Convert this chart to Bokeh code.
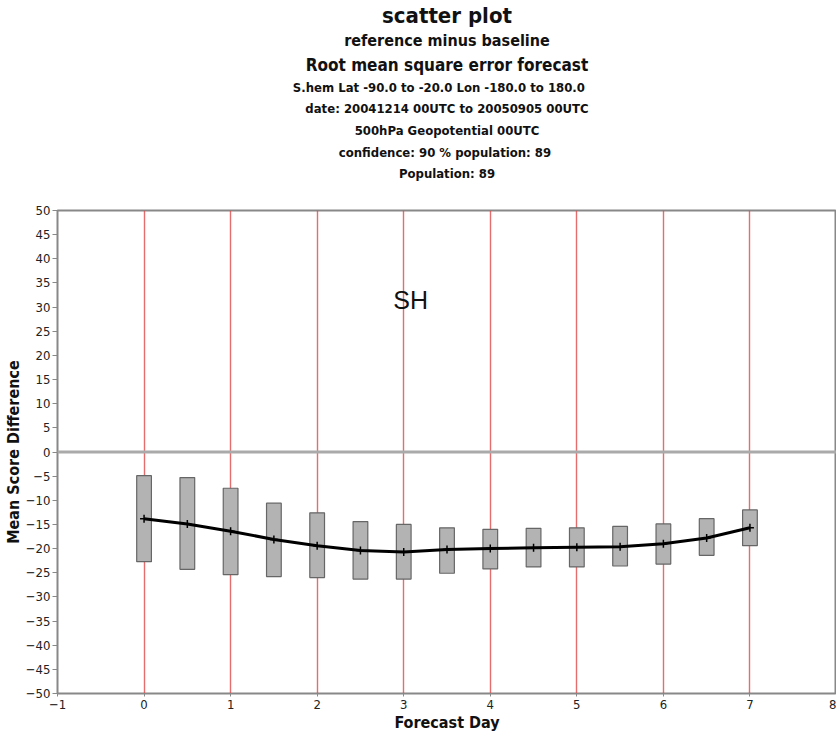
from bokeh.plotting import figure
from bokeh.models import Range1d, Title, Span, FixedTicker, Label
from bokeh.embed import file_html
from bokeh.resources import INLINE

days = [0, 0.5, 1, 1.5, 2, 2.5, 3, 3.5, 4, 4.5, 5, 5.5, 6, 6.5, 7]
mean = [-13.8, -14.9, -16.4, -18.1, -19.4, -20.4, -20.7, -20.2, -20.0, -19.8, -19.7, -19.6, -19.0, -17.8, -15.7]
upper = [-4.9, -5.3, -7.5, -10.6, -12.6, -14.4, -15.0, -15.7, -16.0, -15.8, -15.7, -15.4, -14.9, -13.8, -12.0]
lower = [-22.7, -24.3, -25.4, -25.8, -26.0, -26.3, -26.3, -25.1, -24.2, -23.8, -23.8, -23.6, -23.2, -21.4, -19.4]

title_lines = [
    ("scatter plot", "22px", 0),
    ("reference minus baseline", "16px", 3),
    ("Root mean square error forecast", "17px", 3),
    ("S.hem  Lat  -90.0 to -20.0 Lon  -180.0 to  180.0", "13px", 3),
    ("date: 20041214 00UTC to 20050905 00UTC", "13px", 5),
    ("500hPa Geopotential 00UTC", "13px", 5),
    ("confidence: 90 %  population: 89", "13px", 4),
    ("Population: 89", "13px", 4),
]
x_ticks = [-1, 0, 1, 2, 3, 4, 5, 6, 7, 8]
y_ticks = list(range(-50, 55, 5))
grid_days = [0, 1, 2, 3, 4, 5, 6, 7]

FONT = "'Liberation Sans Narrow', 'DejaVu Sans Condensed', 'Liberation Sans', sans-serif"

p = figure(width=836, height=739, output_backend="svg", toolbar_location=None,
           x_range=Range1d(-1, 8), y_range=Range1d(-50, 50),
           min_border_left=50, min_border_right=0, min_border_bottom=46, min_border_top=4)
p.outline_line_color = "#888888"
p.outline_line_width = 2

# spacer between the last title line and the plot frame
p.add_layout(Title(text=" ", text_font_size="1px", standoff=25, offset=0), "above")
for text, size, sb in reversed(title_lines):
    p.add_layout(Title(text=text, align="center", text_font=FONT, text_font_size=size,
                       text_font_style="bold", text_color="#111111",
                       standoff=sb, offset=0), "above")

p.xaxis.ticker = FixedTicker(ticks=x_ticks)
p.yaxis.ticker = FixedTicker(ticks=y_ticks)
p.xaxis.axis_label = "Forecast Day"
p.yaxis.axis_label = "Mean Score Difference"
for ax in (p.xaxis[0], p.yaxis[0]):
    ax.axis_label_text_font = FONT
    ax.axis_label_text_font_size = "16px"
    ax.axis_label_text_font_style = "bold"
    ax.axis_label_text_color = "#111111"
    ax.major_label_text_font = FONT
    ax.major_label_text_font_size = "13px"
    ax.major_label_text_color = "#222222"
    ax.axis_line_color = "#888888"
    ax.major_tick_line_color = "#888888"
    ax.minor_tick_line_color = None
    ax.major_tick_in = 0
p.xaxis.major_tick_out = 3
p.yaxis.major_tick_out = 5
p.xaxis.axis_label_standoff = 1
p.yaxis.axis_label_standoff = 0
p.yaxis.major_label_standoff = 2
p.xaxis.major_label_standoff = 3

p.ygrid.grid_line_color = None
p.xgrid.ticker = FixedTicker(ticks=grid_days)
p.xgrid.grid_line_color = "#e04848"
p.xgrid.grid_line_width = 1.4
p.xgrid.grid_line_alpha = 0.8

p.add_layout(Span(location=0, dimension="width", line_color="#aaaaaa", line_width=3))

p.vbar(x=days, top=upper, bottom=lower, width=0.17, fill_color="#b3b3b3",
       line_color="#666666", line_width=1.2)
p.line(days, mean, line_color="black", line_width=3)
p.scatter(days, mean, marker="cross", size=8, line_color="black", line_width=1.5)

p.add_layout(Label(x=3.08, y=31.4, text="SH", text_align="center", text_baseline="middle",
                   text_font="Liberation Sans", text_font_size="25px", text_color="#111111"))

open("out.html", "w").write(file_html(p, INLINE))
